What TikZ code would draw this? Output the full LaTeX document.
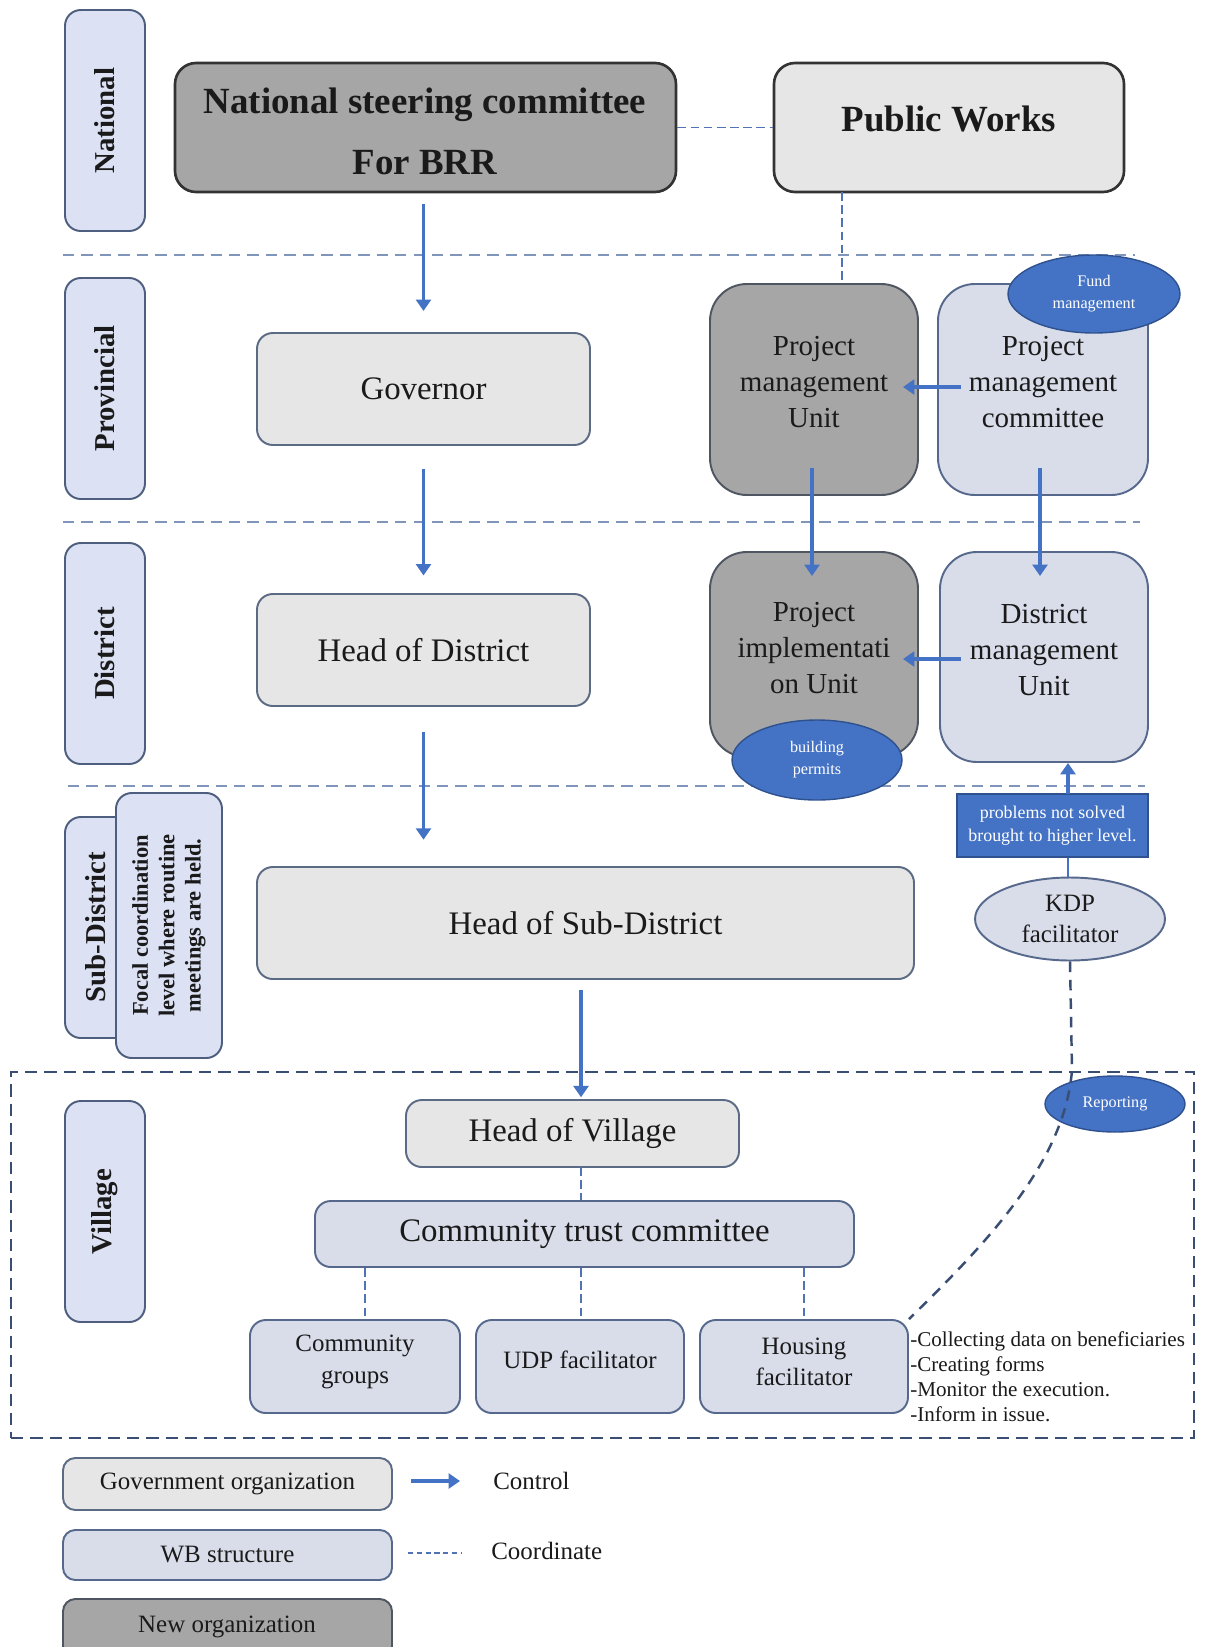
\documentclass[tikz,border=0pt]{standalone}
\usepackage{fontspec}
\setmainfont{Liberation Serif}
\usetikzlibrary{fit,shapes.geometric,arrows.meta}
\definecolor{accent}{HTML}{4472C4}
\definecolor{accentdark}{HTML}{2F528F}
\definecolor{govfill}{HTML}{E7E6E6}
\definecolor{govline}{HTML}{5B6B85}
\definecolor{newfill}{HTML}{A6A6A6}
\definecolor{newline}{HTML}{4F5661}
\definecolor{wbfill}{HTML}{D9DDEA}
\definecolor{wbline}{HTML}{56698C}
\definecolor{lvlfill}{HTML}{DCE1F4}
\definecolor{lvlline}{HTML}{4E5E7E}
\definecolor{sepcol}{HTML}{7F95BA}
\definecolor{coordcol}{HTML}{4F73B5}
\definecolor{darkdash}{HTML}{3A4E73}
\definecolor{ink}{HTML}{1A1A1A}
\newcommand\myfs[2]{\fontsize{#1pt}{#2pt}\selectfont}
\begin{document}
\begin{tikzpicture}[x=0.02cm,y=-0.02cm,
  base/.style={draw, inner sep=0pt, line width=1.1pt},
  govbox/.style={base, fill=govfill, draw=govline, rounded corners=9pt},
  newbox/.style={base, fill=newfill, draw=newline, rounded corners=9pt},
  wbbox/.style={base, fill=wbfill, draw=wbline, rounded corners=9pt},
  lvl/.style={draw=lvlline, fill=lvlfill, rounded corners=9pt, line width=1.1pt, inner sep=0pt},
  lvltext/.style={rotate=90, font=\bfseries\myfs{16.4}{20}, text=ink},
  lbl/.style={inner sep=0pt, align=center, text=ink},
  ctrl/.style={draw=accent, line width=2.2pt, -{Triangle[length=6.5pt,width=8.5pt]}},
  coordl/.style={draw=coordcol, line width=1.1pt, dash pattern=on 5pt off 2.5pt},
  sepl/.style={draw=sepcol, line width=1.1pt, dash pattern=on 6.5pt off 4pt},
  blueell/.style={ellipse, fill=accent, draw=accentdark, line width=0.8pt, text=white, inner sep=0pt, align=center},
  bigtxt/.style={font=\myfs{18.7}{22}},
  midtxt/.style={font=\myfs{16.5}{20.4}},
  smalltxt/.style={font=\myfs{14.2}{17.9}},
  eltxt/.style={font=\myfs{9.2}{12.5}}
]
\path[use as bounding box, fill=white] (0,0) rectangle (1205,1647);

% separators
\coordinate (s1a) at (63,255);  \coordinate (s1b) at (1135,255);
\coordinate (s2a) at (63,522);  \coordinate (s2b) at (1140,522);
\coordinate (s3a) at (68,786);  \coordinate (s3b) at (1145,786);
\draw[sepl] (s1a) -- (s1b);
\draw[sepl] (s2a) -- (s2b);
\draw[sepl] (s3a) -- (s3b);

% village frame
\node[draw=darkdash, line width=1.4pt, dash pattern=on 7pt off 4pt, inner sep=0pt, fit={(11,1072)(1194,1438)}] (vframe) {};

% level labels
\node[lvl, fit={(65,10)(145,231)}] (Lnat) {};
\node[lvltext] (Tnat) at (Lnat.center) {National};
\node[lvl, fit={(65,278)(145,499)}] (Lprov) {};
\node[lvltext] (Tprov) at (Lprov.center) {Provincial};
\node[lvl, fit={(65,543)(145,764)}] (Ldist) {};
\node[lvltext] (Tdist) at (Ldist.center) {District};
\node[lvl, fit={(65,817)(150,1038)}] (Lsub) {};
\node[lvltext] (Tsub) at (96,927) {Sub-District};
\node[lvl, fit={(116,793)(222,1058)}] (Lfocal) {};
\node[rotate=90, align=center, font=\bfseries\myfs{12.8}{15}, text=ink] (Tfocal) at (Lfocal.center) {Focal coordination\\level where routine\\meetings are held.};
\node[lvl, fit={(65,1101)(145,1322)}] (Lvil) {};
\node[lvltext] (Tvil) at (Lvil.center) {Village};

% national
\node[newbox, draw=black!80, line width=1.5pt, rounded corners=12pt, fit={(175,63)(676,192)}] (nsc) {};
\node[lbl, font=\bfseries\myfs{21}{34.6}] (nscT) at (425,131) {National steering committee\\For BRR};
\node[govbox, draw=black!80, line width=1.5pt, rounded corners=12pt, fit={(774,63)(1124,192)}] (pw) {};
\node[lbl, font=\bfseries\myfs{21}{25}] (pwT) at (949,119) {Public Works};

% left column
\node[govbox, fit={(257,333)(590,445)}] (gov) {};
\node[lbl, bigtxt] (govT) at (gov.center) {Governor};
\node[govbox, fit={(257,594)(590,706)}] (hod) {};
\node[lbl, bigtxt] (hodT) at (hod.center) {Head of District};
\node[govbox, fit={(257,867)(914,979)}] (hsd) {};
\node[lbl, bigtxt] (hsdT) at (hsd.center) {Head of Sub-District};

% right column
\node[newbox, rounded corners=21pt, fit={(710,284)(918,495)}] (pmu) {};
\node[lbl, midtxt] (pmuT) at (814,382) {Project\\management\\Unit};
\node[wbbox, rounded corners=21pt, fit={(938,284)(1148,495)}] (pmc) {};
\node[lbl, midtxt] (pmcT) at (1043,382) {Project\\management\\committee};
\node[newbox, rounded corners=21pt, fit={(710,552)(918,757)}] (piu) {};
\node[lbl, midtxt] (piuT) at (814,648) {Project\\implementati\\on Unit};
\node[wbbox, rounded corners=21pt, fit={(940,552)(1148,762)}] (dmu) {};
\node[lbl, midtxt] (dmuT) at (1044,650) {District\\management\\Unit};
\node[blueell, minimum width=3.44cm, minimum height=1.56cm, eltxt] (fund) at (1094,294) {Fund\\management};
\node[blueell, minimum width=3.4cm, minimum height=1.6cm, eltxt] (bperm) at (817,760) {building\\permits};

\node[fill=accent, draw=accentdark, line width=0.6pt, inner sep=0pt, fit={(957,794)(1148,857)}] (prob) {};
\node[lbl, text=white, font=\myfs{10.2}{13}] (probT) at (prob.center) {problems not solved\\brought to higher level.};
\node[ellipse, fill=wbfill, draw=wbline, line width=1.1pt, inner sep=0pt, minimum width=3.8cm, minimum height=1.66cm] (kdp) at (1070,919) {};
\node[lbl, smalltxt] (kdpT) at (kdp.center) {KDP\\facilitator};

% village
\node[govbox, fit={(406,1100)(739,1167)}] (hov) {};
\node[lbl, bigtxt] (hovT) at (hov.center) {Head of Village};
\node[wbbox, fit={(315,1201)(854,1267)}] (ctc) {};
\node[lbl, bigtxt] (ctcT) at (ctc.center) {Community trust committee};
\node[wbbox, fit={(250,1320)(460,1413)}] (cg) {};
\node[lbl, smalltxt] (cgT) at (355,1362) {Community\\groups};
\node[wbbox, fit={(476,1320)(684,1413)}] (udp) {};
\node[lbl, smalltxt] (udpT) at (580,1360) {UDP facilitator};
\node[wbbox, fit={(700,1320)(908,1413)}] (hf) {};
\node[lbl, smalltxt] (hfT) at (804,1362) {Housing\\facilitator};
\node[blueell, minimum width=2.8cm, minimum height=1.12cm, eltxt] (rep) at (1115,1104) {Reporting};
\node[anchor=west, align=left, font=\myfs{12}{14.2}, text=ink, inner sep=0pt] (tasks) at (910,1377) {-Collecting data on beneficiaries\\-Creating forms\\-Monitor the execution.\\-Inform in issue.};

% coordinate connectors
\draw[coordl] (nsc.east) -- (pw.west);
\coordinate (pwdrop) at (842,192);
\draw[coordl] (pwdrop) -- (pwdrop |- pmc.north);
\coordinate (hovdrop) at (581,1167);
\draw[coordl] (hovdrop) -- (hovdrop |- ctc.north);
\coordinate (cgtop) at (365,1320);
\coordinate (udptop) at (581,1320);
\coordinate (hftop) at (804,1320);
\draw[coordl] (cgtop |- ctc.south) -- (cgtop);
\draw[coordl] (udptop |- ctc.south) -- (udptop);
\draw[coordl] (hftop |- ctc.south) -- (hftop);

% KDP reporting curve
\draw[draw=darkdash, line width=1.4pt, dash pattern=on 6pt off 4.5pt] (kdp.south) -- (1072,1070) .. controls (1065,1160) and (990,1240) .. (hf.north east);

% control arrows (left column)
\draw[ctrl, shorten <=6pt, shorten >=12pt] (nsc.south -| gov.north) -- (gov.north);
\draw[ctrl, shorten <=13pt, shorten >=10pt] (gov.south) -- (hod.north);
\draw[ctrl, shorten <=14.5pt, shorten >=15pt] (hod.south) -- (hod.south |- hsd.north);
\coordinate (hsdx) at (581,979);
\draw[ctrl, shorten <=6pt, shorten >=1pt] (hsdx) -- (hsdx |- hov.north);
% control arrows (right column, reaching into the boxes)
\coordinate (pmuA) at (812,468); \coordinate (piuA) at (812,576);
\coordinate (pmcA) at (1040,468); \coordinate (dmuA) at (1040,576);
\draw[ctrl] (pmuA) -- (piuA);
\draw[ctrl] (pmcA) -- (dmuA);
\coordinate (pmcH) at (961,387); \coordinate (pmuH) at (903,387);
\coordinate (dmuH) at (961,659); \coordinate (piuH) at (903,659);
\draw[ctrl] (pmcH) -- (pmuH);
\draw[ctrl] (dmuH) -- (piuH);
\coordinate (probx) at (1068,794);
\draw[ctrl] (probx) -- (probx |- dmu.south);
\draw[draw=accent, line width=1.3pt] (prob.south -| probx) -- (kdp.north -| probx);

% legend
\node[govbox, rounded corners=7pt, fit={(63,1458)(392,1510)}] (lg1) {};
\node[lbl, smalltxt] (lg1T) at (lg1.center) {Government organization};
\node[wbbox, rounded corners=7pt, fit={(63,1530)(392,1580)}] (lg2) {};
\node[lbl, smalltxt] (lg2T) at (lg2.center) {WB structure};
\node[newbox, rounded corners=7pt, fit={(63,1599)(392,1658)}] (lg3) {};
\node[lbl, smalltxt] (lg3T) at (227,1627) {New organization};
\coordinate (la1) at (411,1481); \coordinate (la2) at (460,1481);
\draw[ctrl] (la1) -- (la2);
\node[anchor=west, smalltxt, text=ink, inner sep=0pt] (lctrl) at (493,1481) {Control};
\coordinate (ld1) at (408,1553); \coordinate (ld2) at (462,1553);
\draw[coordl, dash pattern=on 3pt off 2pt] (ld1) -- (ld2);
\node[anchor=west, smalltxt, text=ink, inner sep=0pt] (lcoord) at (491,1551) {Coordinate};
\end{tikzpicture}
\end{document}
